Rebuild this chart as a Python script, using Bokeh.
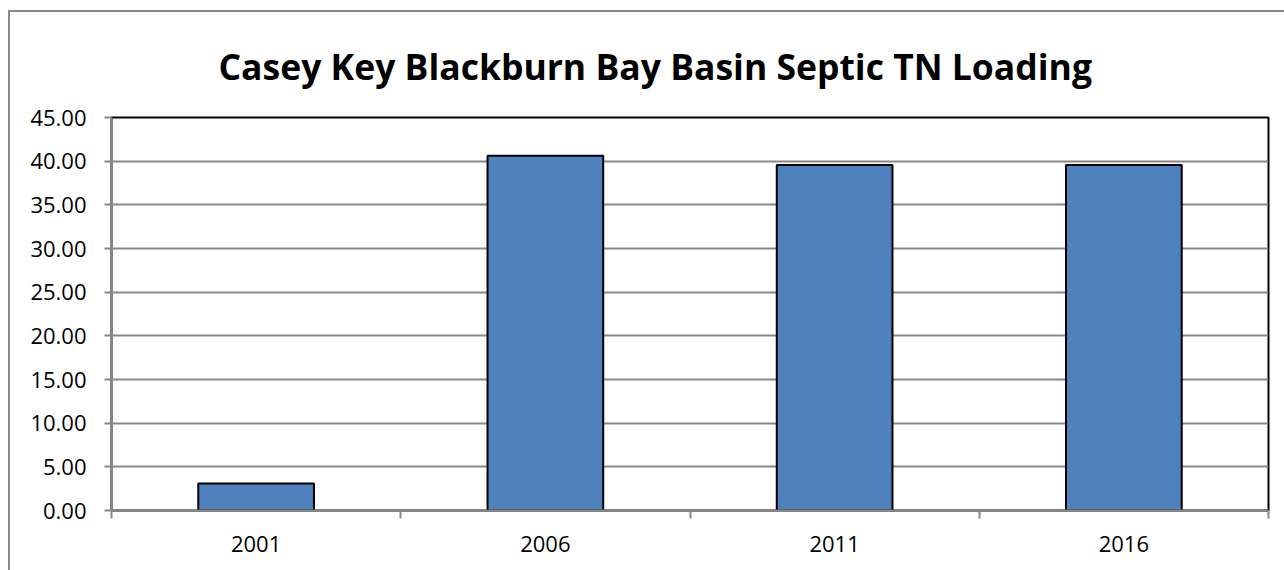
from bokeh.plotting import figure
from bokeh.models import FixedTicker, Range1d, NumeralTickFormatter
from bokeh.embed import file_html
from bokeh.resources import INLINE

title_text = "Casey Key Blackburn Bay Basin Septic TN Loading"
years = ["2001", "2006", "2011", "2016"]
loading = [3.08, 40.62, 39.55, 39.55]
y_ticks = [0, 5, 10, 15, 20, 25, 30, 35, 40, 45]

xs = [i + 0.5 for i in range(len(years))]

p = figure(width=1276, height=560, output_backend="svg", toolbar_location=None,
           x_range=Range1d(0, len(years)), y_range=Range1d(0, 45),
           min_border_left=101, min_border_right=18, min_border_top=105, min_border_bottom=62)
p.styles = {"border-top": "2px solid #888888", "border-left": "2px solid #888888",
            "box-sizing": "border-box", "margin-left": "8px", "margin-top": "10px"}

p.title.text = title_text
p.title.align = "left"
p.title.text_font = "Open Sans"
p.title.text_font_style = "bold"
p.title.text_font_size = "35.5px"
p.title.text_color = "black"
p.title.standoff = 55
p.title.offset = 107

p.vbar(x=xs, top=loading, width=0.4, fill_color="#4F81BD", line_color="black", line_width=2)

p.outline_line_color = "black"
p.outline_line_width = 2
p.xgrid.visible = False
p.ygrid.ticker = FixedTicker(ticks=y_ticks)
p.ygrid.grid_line_color = "#888888"
p.ygrid.grid_line_width = 2

p.yaxis.ticker = FixedTicker(ticks=y_ticks)
p.yaxis.formatter = NumeralTickFormatter(format="0.00")
p.yaxis.axis_line_color = "#888888"
p.yaxis.axis_line_width = 2
p.yaxis.major_tick_line_color = "#888888"
p.yaxis.major_tick_line_width = 2
p.yaxis.major_tick_out = 7
p.yaxis.major_tick_in = 0
p.yaxis.minor_tick_line_color = None
p.yaxis.major_label_standoff = 18
p.yaxis.major_label_text_font = "Open Sans"
p.yaxis.major_label_text_font_size = "22px"
p.yaxis.major_label_text_color = "black"

p.xaxis.ticker = FixedTicker(ticks=xs, minor_ticks=list(range(len(years) + 1)))
p.xaxis.major_label_overrides = {x: y for x, y in zip(xs, years)}
p.xaxis.axis_line_color = "#888888"
p.xaxis.axis_line_width = 2
p.xaxis.major_tick_line_color = None
p.xaxis.major_tick_out = 0
p.xaxis.major_tick_in = 0
p.xaxis.minor_tick_line_color = "#888888"
p.xaxis.minor_tick_line_width = 2
p.xaxis.minor_tick_out = 8
p.xaxis.minor_tick_in = 0
p.xaxis.major_label_standoff = 17
p.xaxis.major_label_text_font = "Open Sans"
p.xaxis.major_label_text_font_size = "22px"
p.xaxis.major_label_text_color = "black"

open("out.html", "w").write(file_html(p, INLINE))
